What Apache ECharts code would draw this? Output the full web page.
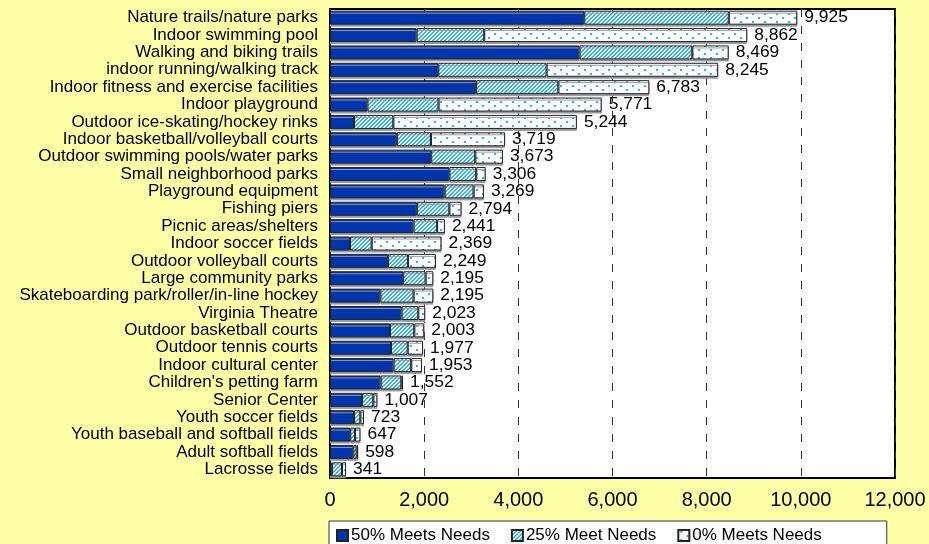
<!DOCTYPE html>
<html style="height: 100%">
<head>
<meta charset="utf-8">
<title>Facility needs</title>
<script src="https://cdn.jsdelivr.net/npm/echarts@6/dist/echarts.min.js"></script>
</head>
<body style="height: 100%; margin: 0; background-color: #ffffa8;">
<div id="container" style="width: 929px; height: 544px;"></div>
<script type="text/javascript">
var categories = ['Nature trails/nature parks', 'Indoor swimming pool', 'Walking and biking trails',
  'indoor running/walking track', 'Indoor fitness and exercise facilities', 'Indoor playground',
  'Outdoor ice-skating/hockey rinks', 'Indoor basketball/volleyball courts', 'Outdoor swimming pools/water parks',
  'Small neighborhood parks', 'Playground equipment', 'Fishing piers', 'Picnic areas/shelters',
  'Indoor soccer fields', 'Outdoor volleyball courts', 'Large community parks',
  'Skateboarding park/roller/in-line hockey', 'Virginia Theatre', 'Outdoor basketball courts',
  'Outdoor tennis courts', 'Indoor cultural center', "Children's petting farm", 'Senior Center',
  'Youth soccer fields', 'Youth baseball and softball fields', 'Adult softball fields', 'Lacrosse fields'];
var meets50 = [5400, 1840, 5300, 2300, 3105, 795, 510, 1420, 2150, 2535, 2435, 1845, 1775,
  425, 1230, 1555, 1070, 1520, 1275, 1295, 1350, 1075, 680, 510, 430, 495, 40];
var meets25 = [3070, 1435, 2395, 2300, 1745, 1510, 835, 725, 935, 570, 615, 690, 500,
  460, 425, 475, 705, 355, 515, 355, 375, 440, 240, 135, 100, 70, 215];
var meets0 = [1455, 5587, 774, 3645, 1933, 3466, 3899, 1574, 588, 201, 219, 259, 166,
  1484, 594, 165, 420, 148, 213, 327, 228, 37, 87, 78, 117, 33, 86];
var totals = [9925, 8862, 8469, 8245, 6783, 5771, 5244, 3719, 3673, 3306, 3269, 2794, 2441,
  2369, 2249, 2195, 2195, 2023, 2003, 1977, 1953, 1552, 1007, 723, 647, 598, 341];
var xTicks = [0, 2000, 4000, 6000, 8000, 10000, 12000];

function fmt(v) {
  return String(v).replace(/\B(?=(\d{3})+(?!\d))/g, ',');
}

// fill patterns like the excel ones
function hatch() {
  var c = document.createElement('canvas');
  c.width = 4; c.height = 4;
  var g = c.getContext('2d');
  g.fillStyle = '#ffffff';
  g.fillRect(0, 0, 4, 4);
  g.fillStyle = '#26b8f5';
  for (var x = 0; x < 4; x++) {
    for (var y = 0; y < 4; y++) {
      if ((x + y) % 4 < 2) g.fillRect(x, y, 1, 1);
    }
  }
  return c;
}
function dots() {
  var c = document.createElement('canvas');
  c.width = 12; c.height = 8;
  var g = c.getContext('2d');
  g.fillStyle = '#ffffff';
  g.fillRect(0, 0, 12, 8);
  g.fillStyle = '#29b6f6';
  g.fillRect(2, 1, 2, 2);
  g.fillRect(8, 5, 2, 2);
  return c;
}

var font = 'Liberation Sans, Arial, sans-serif';
var barStyle = function (color) {
  return {
    color: color,
    borderColor: '#222',
    borderWidth: 1,
    shadowColor: '#9a9a9a',
    shadowOffsetY: 2,
    shadowBlur: 0
  };
};

var dom = document.getElementById('container');
var myChart = echarts.init(dom);
var option = {
  backgroundColor: '#ffffa8',
  animation: false,
  textStyle: { fontFamily: font },
  grid: {
    left: 330, top: 9, right: 34, bottom: 66,
    show: true, backgroundColor: '#ffffff', borderColor: '#000', borderWidth: 2
  },
  legend: {
    left: 329, top: 521,
    padding: [6, 65, 10, 7],
    itemGap: 21,
    itemWidth: 11, itemHeight: 11,
    icon: 'rect',
    borderColor: '#333', borderWidth: 1,
    backgroundColor: '#ffffff',
    textStyle: { fontSize: 17, color: '#000', fontFamily: font, padding: [0, 0, 0, -2] },
    data: ['50% Meets Needs', '25% Meet Needs', '0% Meets Needs']
  },
  xAxis: {
    type: 'value',
    min: xTicks[0], max: xTicks[xTicks.length - 1], interval: 2000,
    axisLine: { show: false },
    axisTick: { show: false },
    axisLabel: { fontSize: 20, color: '#000', margin: 12, formatter: fmt },
    splitLine: { lineStyle: { color: '#333', width: 1, type: [8, 9] } }
  },
  yAxis: {
    type: 'category',
    inverse: true,
    data: categories,
    axisLine: { show: false },
    axisTick: { show: false },
    axisLabel: { fontSize: 17, color: '#000', margin: 12, interval: 0, lineHeight: 17 }
  },
  series: [
    { name: '50% Meets Needs', type: 'bar', stack: 't', barWidth: 14, data: meets50, itemStyle: barStyle('#0035ad') },
    { name: '25% Meet Needs', type: 'bar', stack: 't', data: meets25, itemStyle: barStyle({ image: hatch(), repeat: 'repeat' }) },
    {
      name: '0% Meets Needs', type: 'bar', stack: 't', data: meets0,
      itemStyle: barStyle({ image: dots(), repeat: 'repeat' }),
      label: {
        show: true, position: 'right', distance: 7,
        fontSize: 17.4, color: '#000', fontFamily: font,
        formatter: function (p) { return fmt(totals[p.dataIndex]); }
      }
    }
  ]
};
myChart.setOption(option, true);
</script>
</body>
</html>
